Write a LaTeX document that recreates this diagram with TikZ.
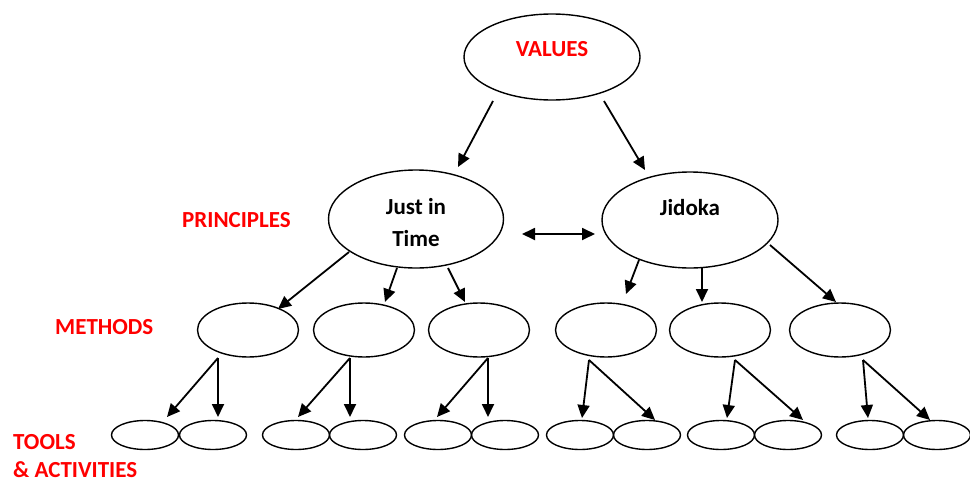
\documentclass[tikz,border=0pt]{standalone}
\usepackage{fontspec}
\setmainfont{Carlito}
\usetikzlibrary{shapes.geometric,arrows.meta}
\begin{document}
\begin{tikzpicture}[x=1pt,y=-1pt,
  ell/.style={ellipse,draw,line width=1.4pt,inner sep=0pt},
  big/.style={ell,minimum width=#1,minimum height=96pt},
  meth/.style={ell,minimum width=101pt,minimum height=54pt},
  tool/.style={ell,minimum width=67pt,minimum height=29pt},
  lvl/.style={font=\bfseries\fontsize{23}{28}\selectfont,text=red,inner sep=0pt,anchor=west},
  txt/.style={font=\bfseries\fontsize{23}{28}\selectfont,inner sep=0pt},
  arr/.style={line width=1.8pt,-{Triangle[length=13pt,width=12pt]}},
  dbl/.style={line width=1.8pt,{Triangle[length=13pt,width=12pt]}-{Triangle[length=13pt,width=12pt]}},
]
\useasboundingbox (0,0) rectangle (970,482);

% level captions
\node[lvl] (lprin) at (182,220) {PRINCIPLES};
\node[lvl] (lmeth) at (55,327) {METHODS};
\node[lvl] (ltool) at (13,442) {TOOLS};
\node[lvl] (lact) at (13,470) {\& ACTIVITIES};

% values and principles
\node[ell,minimum width=176pt,minimum height=86pt] (vals) at (552,57) {};
\node[txt,text=red] (tvals) at (552,49) {VALUES};
\node[big=175pt,minimum height=98pt] (jit) at (416,219) {};
\node[txt,align=center] (tjit) at (416,223) {Just in\\[4pt]Time};
\node[big=176pt] (jid) at (690,220) {};
\node[txt] (tjid) at (690,208) {Jidoka};

% methods
\node[meth] (m1) at (248,330) {};
\node[meth] (m2) at (364,330) {};
\node[meth] (m3) at (479,330) {};
\node[meth] (m4) at (606,330) {};
\node[meth] (m5) at (720,330) {};
\node[meth] (m6) at (840,330) {};

% tools and activities
\foreach \i/\x in {1/145,2/213,3/296,4/363,5/438,6/505,7/580,8/647,9/721,10/788,11/870,12/937}
  \node[tool] (t\i) at (\x,435) {};

% values -> principles
\draw[arr] ([shift={(-59,44)}]vals.center) -- ([shift={(42,-52)}]jit.center);
\draw[arr] ([shift={(52,44)}]vals.center) -- ([shift={(-45,-50)}]jid.center);
\draw[dbl] ([shift={(106,15)}]jit.center) -- ([shift={(-95,14)}]jid.center);

% principles -> methods
\draw[arr] ([shift={(-67,33)}]jit.center) -- ([shift={(30,-21)}]m1.center);
\draw[arr] ([shift={(-19,49)}]jit.center) -- ([shift={(21,-28)}]m2.center);
\draw[arr] ([shift={(32,49)}]jit.center) -- ([shift={(-14,-28)}]m3.center);
\draw[arr] ([shift={(-51,40)}]jid.center) -- ([shift={(20,-36)}]m4.center);
\draw[arr] ([shift={(12,47)}]jid.center) -- ([shift={(-18,-28)}]m5.center);
\draw[arr] ([shift={(80,25)}]jid.center) -- ([shift={(-4,-28)}]m6.center);

% methods -> tools
\draw[arr] ([shift={(-30,28)}]m1.center) -- ([shift={(22,-18)}]t1.center);
\draw[arr] ([shift={(-30,28)}]m1.center) -- ([shift={(5,-18)}]t2.center);
\draw[arr] ([shift={(-14,28)}]m2.center) -- ([shift={(2,-18)}]t3.center);
\draw[arr] ([shift={(-14,28)}]m2.center) -- ([shift={(-13,-18)}]t4.center);
\draw[arr] ([shift={(9,28)}]m3.center) -- ([shift={(-1,-18)}]t5.center);
\draw[arr] ([shift={(9,28)}]m3.center) -- ([shift={(-17,-18)}]t6.center);
\draw[arr] ([shift={(-17,30)}]m4.center) -- ([shift={(2,-17)}]t7.center);
\draw[arr] ([shift={(-17,30)}]m4.center) -- ([shift={(8,-15)}]t8.center);
\draw[arr] ([shift={(15,30)}]m5.center) -- ([shift={(6,-17)}]t9.center);
\draw[arr] ([shift={(15,30)}]m5.center) -- ([shift={(15,-15)}]t10.center);
\draw[arr] ([shift={(23,30)}]m6.center) -- ([shift={(-2,-17)}]t11.center);
\draw[arr] ([shift={(23,30)}]m6.center) -- ([shift={(-7,-15)}]t12.center);
\end{tikzpicture}
\end{document}
